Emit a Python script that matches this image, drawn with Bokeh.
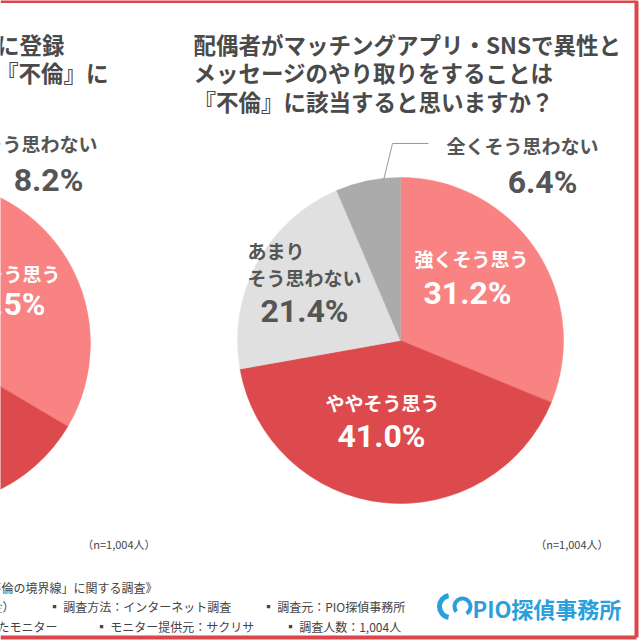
import math
from bokeh.plotting import figure
from bokeh.models import Range1d
from bokeh.core.properties import value
from bokeh.embed import file_html
from bokeh.resources import INLINE

# ---------------- data ----------------
categories = ["強くそう思う", "ややそう思う", "あまりそう思わない", "全くそう思わない"]
right_values = [31.2, 41.0, 21.4, 6.4]
left_values = [33.5, 40.0, 18.3, 8.2]
slice_colors = ["#F98383", "#DC4A4D", "#E0E0E0", "#ABABAB"]

right_title = ["配偶者がマッチングアプリ・SNSで異性と",
               "メッセージのやり取りをすることは",
               "『不倫』に該当すると思いますか？"]
left_title = ["配偶者がマッチングアプリに登録", "することは『不倫』に"]
sample_note = "（n=1,004人）"
footer_lines = [
    ["《「不倫の境界線」に関する調査》"],
    ["調査期間：2024年（金）", "▪ 調査方法：インターネット調査", "▪ 調査元：PIO探偵事務所"],
    ["調査対象：登録したモニター", "▪ モニター提供元：サクリサ", "▪ 調査人数：1,004人"],
]
logo_text = "PIO探偵事務所"

W = H = 640
JP = "Noto Sans CJK JP"
NUM = "Roboto"
DARK = "#555555"


def Y(y):
    return H - y


p = figure(width=W, height=H, x_range=Range1d(0, W), y_range=Range1d(0, H),
           output_backend="svg", toolbar_location=None, min_border=0,
           background_fill_color="white", border_fill_color="white")
p.axis.visible = False
p.grid.visible = False
p.outline_line_color = None


def pie(cx, cy, r, vals):
    total = sum(vals)
    cum = 0.0
    starts, ends = [], []
    for v in vals:
        starts.append(math.pi / 2 - 2 * math.pi * cum / total)
        cum += v
        ends.append(math.pi / 2 - 2 * math.pi * cum / total)
    p.wedge(x=[cx] * len(vals), y=[Y(cy)] * len(vals), radius=r,
            start_angle=starts, end_angle=ends, direction="clock",
            fill_color=slice_colors, line_color=slice_colors, line_width=0.5)


R = 163
pie(-73, 343, R, left_values)
pie(400, 340, R, right_values)


def txt(x, y, s, size, color=DARK, font=JP, align="center", style="bold"):
    p.text(x=[x], y=[Y(y)], text=[s], text_font=value(font),
           text_font_size=f"{size}px", text_color=color, text_align=align,
           text_baseline="middle", text_font_style=style)


TITLE = "#4a4a4a"
# titles
for i, line in enumerate(right_title):
    txt(193, 43 + 28.5 * i, line, 22.5, color=TITLE, align="left")
txt(64, 43, left_title[0], 22.5, color=TITLE, align="right")
txt(108, 71.5, left_title[1], 22.5, color=TITLE, align="right")

# right pie labels
txt(471, 258, categories[0], 19, color="white")
txt(467, 292, f"{right_values[0]:.1f}%", 32, color="white", font=NUM)
txt(382, 402, categories[1], 19, color="white")
txt(381, 435, f"{right_values[1]:.1f}%", 32, color="white", font=NUM)
txt(247, 250, "あまり", 19, align="left")
txt(247, 277, "そう思わない", 19, align="left")
txt(304, 310, f"{right_values[2]:.1f}%", 32, font=NUM)
txt(522, 145, categories[3], 19)
txt(542, 181, f"{right_values[3]:.1f}%", 32, font=NUM)
p.line(x=[383, 392, 428], y=[Y(180), Y(143), Y(143)], line_color="#9a9a9a", line_width=1)

# left pie labels (partly cut off)
txt(21, 143, categories[3], 19)
txt(48, 179, f"{left_values[3]:.1f}%", 32, font=NUM)
txt(60, 273, categories[0], 19, color="white", align="right")
txt(45, 303, f"{left_values[0]:.1f}%", 32, color="white", font=NUM, align="right")

# sample notes
txt(155, 543, sample_note, 11, color="#444444", align="right", style="normal")
txt(608, 543, sample_note, 11, color="#444444", align="right", style="normal")

# footer
FC = "#444444"
txt(157, 587, footer_lines[0][0], 12, color=FC, align="right", style="normal")
txt(14, 606, footer_lines[1][0], 12, color=FC, align="right", style="normal")
txt(48, 606, footer_lines[1][1], 12, color=FC, align="left", style="normal")
txt(262, 606, footer_lines[1][2], 12, color=FC, align="left", style="normal")
txt(57, 626, footer_lines[2][0], 12, color=FC, align="right", style="normal")
txt(95, 626, footer_lines[2][1], 12, color=FC, align="left", style="normal")
txt(284, 626, footer_lines[2][2], 12, color=FC, align="left", style="normal")

# logo
BLUE = "#2A9FDB"
p.arc(x=[450], y=[Y(606)], radius=11, start_angle=math.radians(100),
      end_angle=math.radians(260), line_color=BLUE, line_width=5)
p.arc(x=[462], y=[Y(606)], radius=8, start_angle=math.radians(-60),
      end_angle=math.radians(220), line_color=BLUE, line_width=4)
txt(472, 607, logo_text, 22, color=BLUE, align="left")

# frame
RED = "#D9464B"
p.line(x=[0, 636], y=[Y(1), Y(1)], line_color=RED, line_width=3)
p.line(x=[636, 636], y=[Y(0), Y(637)], line_color=RED, line_width=4)
p.line(x=[0, 636], y=[Y(637), Y(637)], line_color=RED, line_width=4)

open("out.html", "w").write(file_html(p, INLINE))
